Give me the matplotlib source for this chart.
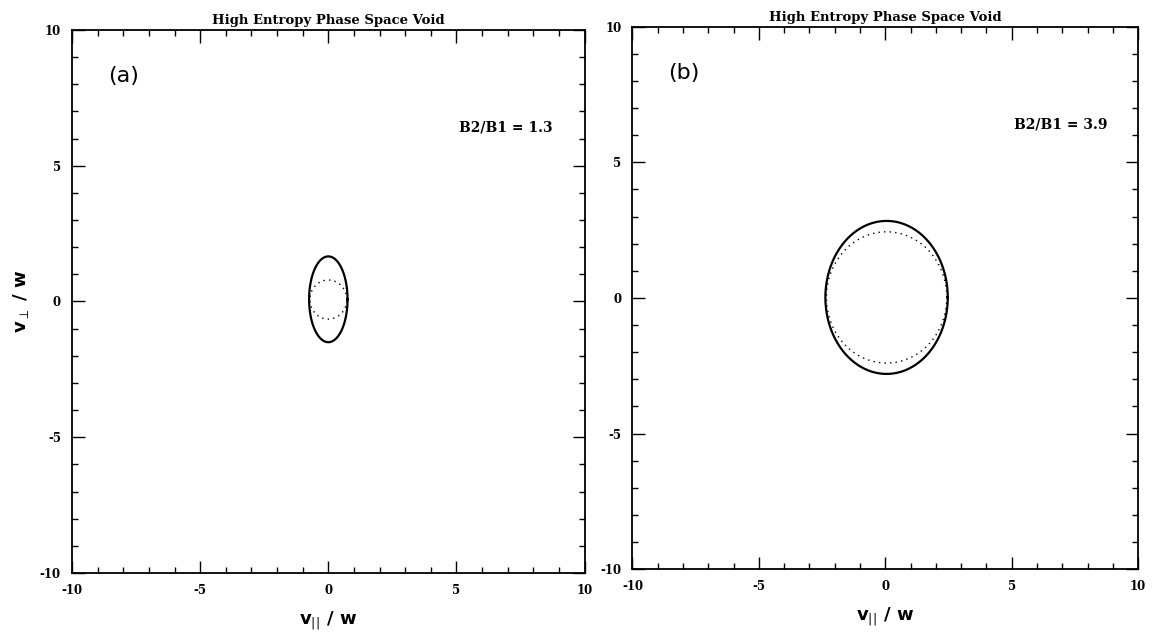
import numpy as np
from matplotlib import pyplot as plt
from matplotlib.ticker import MultipleLocator

# values: ellipse centre and semi-axes (in v/w units)
panels = ['(a)', '(b)']
ratios = ['B2/B1 = 1.3', 'B2/B1 = 3.9']
solid_center = [(0.0, 0.08), (0.05, 0.02)]
solid_axes = [(0.75, 1.58), (2.42, 2.82)]
dotted_center = [(0.0, 0.07), (0.05, 0.02)]
dotted_axes = [(0.72, 0.72), (2.38, 2.42)]
ticks = [-10, -5, 0, 5, 10]
tick_labels = ['-10', '-5', '0', '5', '10']
title = 'High Entropy Phase Space Void'

fig = plt.figure(figsize=(11.52, 6.36), dpi=100)
rects = [[0.0625, 0.099, 0.445, 0.854], [0.549, 0.105, 0.439, 0.853]]

t = np.linspace(0, 2 * np.pi, 400)
for i, r in enumerate(rects):
    ax = fig.add_axes(r)
    cx, cy = solid_center[i]
    a, b = solid_axes[i]
    ax.plot(cx + a * np.cos(t), cy + b * np.sin(t), color='black', lw=1.6)
    cx, cy = dotted_center[i]
    a, b = dotted_axes[i]
    ax.plot(cx + a * np.cos(t), cy + b * np.sin(t), color='black', lw=1.0,
            linestyle=(0, (1, 3)))
    ax.set_xticks(ticks, tick_labels)
    ax.set_yticks(ticks, tick_labels)
    ax.xaxis.set_minor_locator(MultipleLocator(1))
    ax.yaxis.set_minor_locator(MultipleLocator(1))
    ax.set_xlim(-10, 10)
    ax.set_ylim(-10, 10)
    ax.tick_params(which='both', direction='in', top=True, right=True,
                   width=1.0, labelsize=8.5)
    ax.tick_params(which='major', length=9, pad=8)
    ax.tick_params(which='minor', length=4)
    for lab in ax.get_xticklabels() + ax.get_yticklabels():
        lab.set_family('DejaVu Serif')
        lab.set_weight('bold')
    for s in ax.spines.values():
        s.set_linewidth(1.3)
    ax.set_title(title, family='DejaVu Serif', weight='bold', fontsize=9.5, pad=4)
    ax.text(-8.6, 8.3, panels[i], fontsize=16, family='DejaVu Sans',
            va='center', ha='left')
    ax.text(5.1, 6.4, ratios[i], fontsize=10, family='DejaVu Serif',
            weight='bold', va='center', ha='left')
    ax.set_xlabel(r'v$_{||}$ / w', fontsize=13, weight='bold', labelpad=9)
    if i == 0:
        ax.set_ylabel(r'v$_{\perp}$ / w', fontsize=13, weight='bold', labelpad=6)

fig.savefig('out.png', dpi=100)
